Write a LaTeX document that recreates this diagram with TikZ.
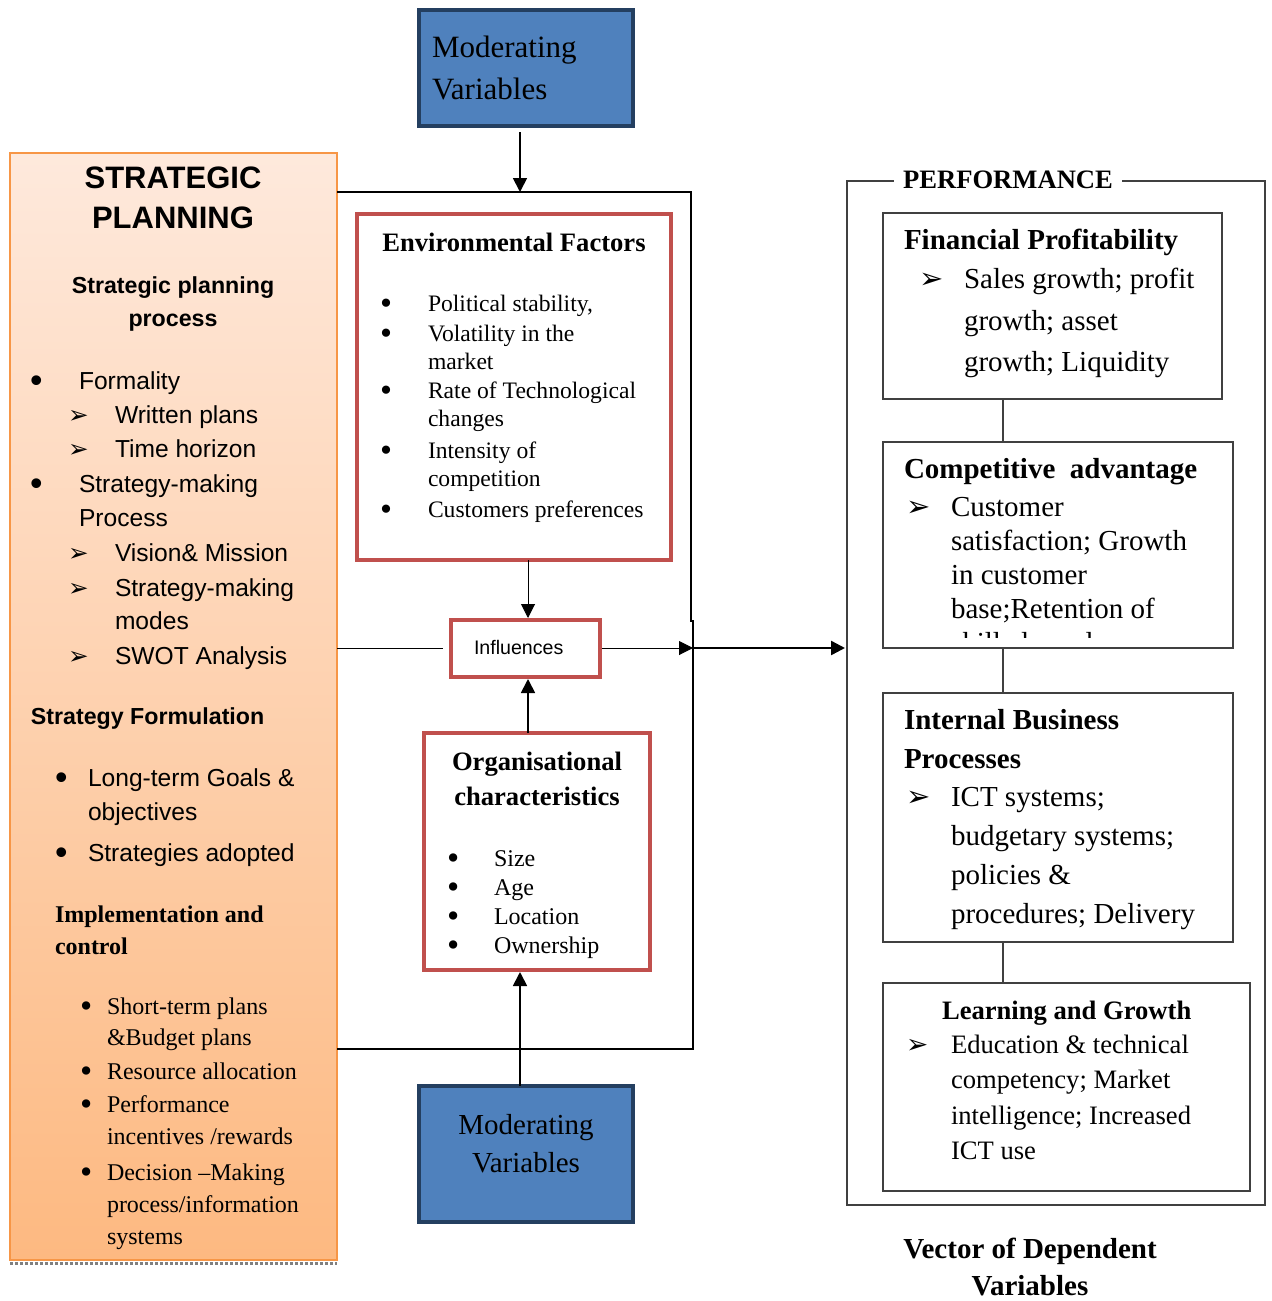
\documentclass[tikz,border=0pt]{standalone}
\usepackage{fontspec}
\setmainfont{Liberation Serif}
\setsansfont{Liberation Sans}
\newfontfamily\dingfont{DejaVu Sans}
\usetikzlibrary{arrows.meta}

\definecolor{orangeline}{HTML}{F79646}
\definecolor{orangetop}{HTML}{FEE9DC}
\definecolor{orangebot}{HTML}{FDB981}
\definecolor{bluefill}{HTML}{4F81BD}
\definecolor{blueline}{HTML}{243F60}
\definecolor{redline}{HTML}{C0504D}
\definecolor{greyline}{HTML}{404040}

\newcommand{\pointer}{{\dingfont\char"27A2}}
\newcommand{\blt}{\raisebox{-0.1em}{\scalebox{1.45}{\textbullet}}}

\tikzset{
  every node/.style={inner sep=0pt, outer sep=0pt},
  stratbox/.style={draw=orangeline, line width=1pt, top color=orangetop, bottom color=orangebot, anchor=north west},
  modbox/.style={draw=blueline, line width=2pt, fill=bluefill, anchor=north west},
  redbox/.style={draw=redline, line width=2pt, fill=white, anchor=north west},
  perfbox/.style={draw=greyline, line width=0.6pt, anchor=north west},
  txt/.style={anchor=west, text height=1.5ex, text depth=.25ex, yshift=-1.5pt},
  ctxt/.style={anchor=center, text height=1.5ex, text depth=.25ex, yshift=-1.5pt},
  stitle/.style={ctxt, font=\sffamily\bfseries\fontsize{15.5}{18}\selectfont},
  shead/.style={font=\sffamily\bfseries\fontsize{11.6}{14}\selectfont},
  stxt/.style={txt, font=\sffamily\fontsize{12.3}{15}\selectfont},
  sertxt/.style={txt, font=\fontsize{12}{14}\selectfont},
  serhead/.style={txt, font=\bfseries\fontsize{12}{14}\selectfont},
  envhead/.style={font=\bfseries\fontsize{13.3}{16}\selectfont},
  envtxt/.style={txt, font=\fontsize{11.8}{14}\selectfont},
  modtxt/.style={font=\fontsize{15.5}{18}\selectfont},
  perfhead/.style={txt, font=\bfseries\fontsize{14.5}{17}\selectfont},
  perftxt/.style={txt, font=\fontsize{14.5}{17}\selectfont},
  lghead/.style={txt, font=\bfseries\fontsize{13.3}{16}\selectfont},
  lgtxt/.style={txt, font=\fontsize{13.3}{16}\selectfont},
  arr/.style={-{Triangle[length=7pt, width=7pt]}},
}

\begin{document}
\begin{tikzpicture}[x=0.5pt, y=-0.5pt]
\useasboundingbox (0,0) rectangle (1272,1301);

%% The strategic planning column on the left, with its shadow line at the bottom
    \node[stratbox, minimum width=163.5pt, minimum height=553.5pt] (strat) at (10,153) {};
    \draw[gray, densely dotted, line width=1.5pt] (10,1263) -- (337,1263);

    \node[stitle] (st1) at (173,180) {STRATEGIC};
    \node[stitle] (st2) at (173,220) {PLANNING};
    \node[shead, ctxt] (sh1) at (173,285) {Strategic planning};
    \node[shead, ctxt] (sh2) at (173,318) {process};

    \node[stxt] (sb1) at (30,381) {\blt};
    \node[stxt] (sl1) at (79,381) {Formality};
    \node[stxt] (sa1) at (68,415) {\pointer};
    \node[stxt] (sl2) at (115,415) {Written plans};
    \node[stxt] (sa2) at (68,449) {\pointer};
    \node[stxt] (sl3) at (115,449) {Time horizon};
    \node[stxt] (sb2) at (30,484) {\blt};
    \node[stxt] (sl4) at (79,484) {Strategy-making};
    \node[stxt] (sl5) at (79,518) {Process};
    \node[stxt] (sa3) at (68,553) {\pointer};
    \node[stxt] (sl6) at (115,553) {Vision\& Mission};
    \node[stxt] (sa4) at (68,588) {\pointer};
    \node[stxt] (sl7) at (115,588) {Strategy-making};
    \node[stxt] (sl8) at (115,621) {modes};
    \node[stxt] (sa5) at (68,656) {\pointer};
    \node[stxt] (sl9) at (115,656) {SWOT Analysis};

    \node[shead, txt] (sf) at (31,716) {Strategy Formulation};
    \node[stxt] (sb3) at (55,778) {\blt};
    \node[stxt] (sf1) at (88,778) {Long-term Goals \&};
    \node[stxt] (sf2) at (88,812) {objectives};
    \node[stxt] (sb4) at (55,853) {\blt};
    \node[stxt] (sf3) at (88,853) {Strategies adopted};

    \node[serhead] (ic1) at (55,914) {Implementation and};
    \node[serhead] (ic2) at (55,946) {control};
    \node[sertxt] (ib1) at (80,1006) {\blt};
    \node[sertxt] (il1) at (107,1006) {Short-term plans};
    \node[sertxt] (il2) at (107,1037) {\&Budget plans};
    \node[sertxt] (ib2) at (80,1071) {\blt};
    \node[sertxt] (il3) at (107,1071) {Resource allocation};
    \node[sertxt] (ib3) at (80,1104) {\blt};
    \node[sertxt] (il4) at (107,1104) {Performance};
    \node[sertxt] (il5) at (107,1136) {incentives /rewards};
    \node[sertxt] (ib4) at (80,1172) {\blt};
    \node[sertxt] (il6) at (107,1172) {Decision --Making};
    \node[sertxt] (il7) at (107,1204) {process/information};
    \node[sertxt] (il8) at (107,1236) {systems};

%% The middle boxes: moderating variables above and below, the red boxes inside the frame
    \node[modbox, minimum width=107pt, minimum height=58pt] (modtop) at (419,10) {};
    \node[modtxt, txt] (mt1) at (432,49) {Moderating};
    \node[modtxt, txt] (mt2) at (432,91) {Variables};

    \node[redbox, minimum width=157pt, minimum height=173pt] (env) at (357,214) {};
    \node[envhead, ctxt] (eh) at (514,243) {Environmental Factors};
    \node[envtxt] (eb1) at (380,303) {\blt};
    \node[envtxt] (el1) at (428,303) {Political stability,};
    \node[envtxt] (eb2) at (380,333) {\blt};
    \node[envtxt] (el2) at (428,333) {Volatility in the};
    \node[envtxt] (el3) at (428,361) {market};
    \node[envtxt] (eb3) at (380,390) {\blt};
    \node[envtxt] (el4) at (428,390) {Rate of Technological};
    \node[envtxt] (el5) at (428,418) {changes};
    \node[envtxt] (eb4) at (380,450) {\blt};
    \node[envtxt] (el6) at (428,450) {Intensity of};
    \node[envtxt] (el7) at (428,478) {competition};
    \node[envtxt] (eb5) at (380,509) {\blt};
    \node[envtxt] (el8) at (428,509) {Customers preferences};

    \node[redbox, minimum width=74.5pt, minimum height=28.5pt] (infl) at (451,620) {};
    \node[txt, font=\sffamily\fontsize{9.8}{12}\selectfont] (it) at (474,646) {Influences};

    \node[redbox, minimum width=113pt, minimum height=118.5pt] (org) at (424,733) {};
    \node[envhead, ctxt] (oh1) at (537,762) {Organisational};
    \node[envhead, ctxt] (oh2) at (537,797) {characteristics};
    \node[sertxt] (ob1) at (447,858) {\blt};
    \node[sertxt] (ol1) at (494,858) {Size};
    \node[sertxt] (ob2) at (447,887) {\blt};
    \node[sertxt] (ol2) at (494,887) {Age};
    \node[sertxt] (ob3) at (447,916) {\blt};
    \node[sertxt] (ol3) at (494,916) {Location};
    \node[sertxt] (ob4) at (447,945) {\blt};
    \node[sertxt] (ol4) at (494,945) {Ownership};

    \node[modbox, minimum width=107pt, minimum height=68pt] (modbot) at (419,1086) {};
    \node[modtxt, ctxt, font=\fontsize{14.5}{17}\selectfont] (mb1) at (526,1126) {Moderating};
    \node[modtxt, ctxt, font=\fontsize{14.5}{17}\selectfont] (mb2) at (526,1164) {Variables};

%% The performance frame on the right with its four boxes
    \node[perfbox, minimum width=209pt, minimum height=512pt] (perf) at (847,181) {};
    \node[ctxt, fill=white, inner xsep=4.5pt, inner ysep=2pt, font=\bfseries\fontsize{13.3}{16}\selectfont] (pl) at (1008,180) {PERFORMANCE};

    \node[perfbox, minimum width=169.5pt, minimum height=93pt] (fin) at (883,213) {};
    \node[perfhead] (fh) at (904,241) {Financial Profitability};
    \node[perftxt] (fa) at (919,280) {\pointer};
    \node[perftxt] (fl1) at (964,280) {Sales growth; profit};
    \node[perftxt] (fl2) at (964,322) {growth; asset};
    \node[perftxt] (fl3) at (964,363) {growth; Liquidity};

    \node[perfbox, minimum width=175pt, minimum height=103pt] (comp) at (883,442) {};
    \node[perfhead] (ch) at (904,470) {Competitive\ \ advantage};
    \node[perftxt] (ca) at (906,508) {\pointer};
    \node[perftxt] (cl1) at (951,508) {Customer};
    \node[perftxt] (cl2) at (951,542) {satisfaction; Growth};
    \node[perftxt] (cl3) at (951,576) {in customer};
    \node[perftxt] (cl4) at (951,610) {base;Retention of};
    \begin{scope}
    \clip (883,442) rectangle (1233,637);
    \node[perftxt] (cl5) at (951,644) {skilled employees};
    \end{scope}

    \node[perfbox, minimum width=175pt, minimum height=124.5pt] (ibp) at (883,693) {};
    \node[perfhead] (bh1) at (904,721) {Internal Business};
    \node[perfhead] (bh2) at (904,760) {Processes};
    \node[perftxt] (ba) at (906,798) {\pointer};
    \node[perftxt] (bl1) at (951,798) {ICT systems;};
    \node[perftxt] (bl2) at (951,837) {budgetary systems;};
    \node[perftxt] (bl3) at (951,876) {policies \&};
    \node[perftxt] (bl4) at (951,915) {procedures; Delivery};

    \node[perfbox, minimum width=183.5pt, minimum height=104pt] (lg) at (883,983) {};
    \node[lghead] (gh) at (942,1011) {Learning and Growth};
    \node[lgtxt] (ga) at (906,1045) {\pointer};
    \node[lgtxt] (gl1) at (951,1045) {Education \& technical};
    \node[lgtxt] (gl2) at (951,1080) {competency; Market};
    \node[lgtxt] (gl3) at (951,1116) {intelligence; Increased};
    \node[lgtxt] (gl4) at (951,1151) {ICT use};

    \coordinate (spine) at (1003,0);
    \draw[greyline, line width=0.6pt] (fin.south -| spine) -- (comp.north -| spine);
    \draw[greyline, line width=0.6pt] (comp.south -| spine) -- (ibp.north -| spine);
    \draw[greyline, line width=0.6pt] (ibp.south -| spine) -- (lg.north -| spine);

    \node[ctxt, font=\bfseries\fontsize{14.5}{17}\selectfont] (v1) at (1030,1250) {Vector of Dependent};
    \node[ctxt, font=\bfseries\fontsize{14.5}{17}\selectfont] (v2) at (1030,1287) {Variables};

%% The open frame round the middle and the arrows into and out of it
    \coordinate (ftop) at (691,192);
    \coordinate (fjog) at (691,621);
    \coordinate (fbot) at (693,1049);
    \coordinate (jn) at (693,648);
    \coordinate (gap) at (443,648);
    \coordinate (mtop) at (520,132);
    \coordinate (mbot) at (520,1086);
    \coordinate (mid) at (528,0);
    \draw[line width=0.9pt] (strat.east |- ftop) -- (ftop) -- (fjog) -- (fjog -| fbot) -- (fbot) -- (strat.east |- fbot);

    \draw[arr, line width=0.9pt] (mtop) -- (mtop |- ftop);
    \draw[arr, line width=0.9pt] (mbot) -- ([yshift=-1pt]mbot |- org.south);
    \draw[arr, line width=0.5pt] (env.south -| mid) -- ([yshift=1pt]infl.north -| mid);
    \draw[arr, line width=0.9pt] (org.north -| mid) -- ([yshift=-1pt]infl.south -| mid);
    \draw[line width=0.5pt] (strat.east |- gap) -- (gap);
    \draw[arr, line width=0.5pt] ([xshift=1pt]infl.east |- jn) -- (jn);
    \draw[arr, line width=1.2pt] (jn) -- ([xshift=-1pt]jn -| perf.west);

\end{tikzpicture}
\end{document}
